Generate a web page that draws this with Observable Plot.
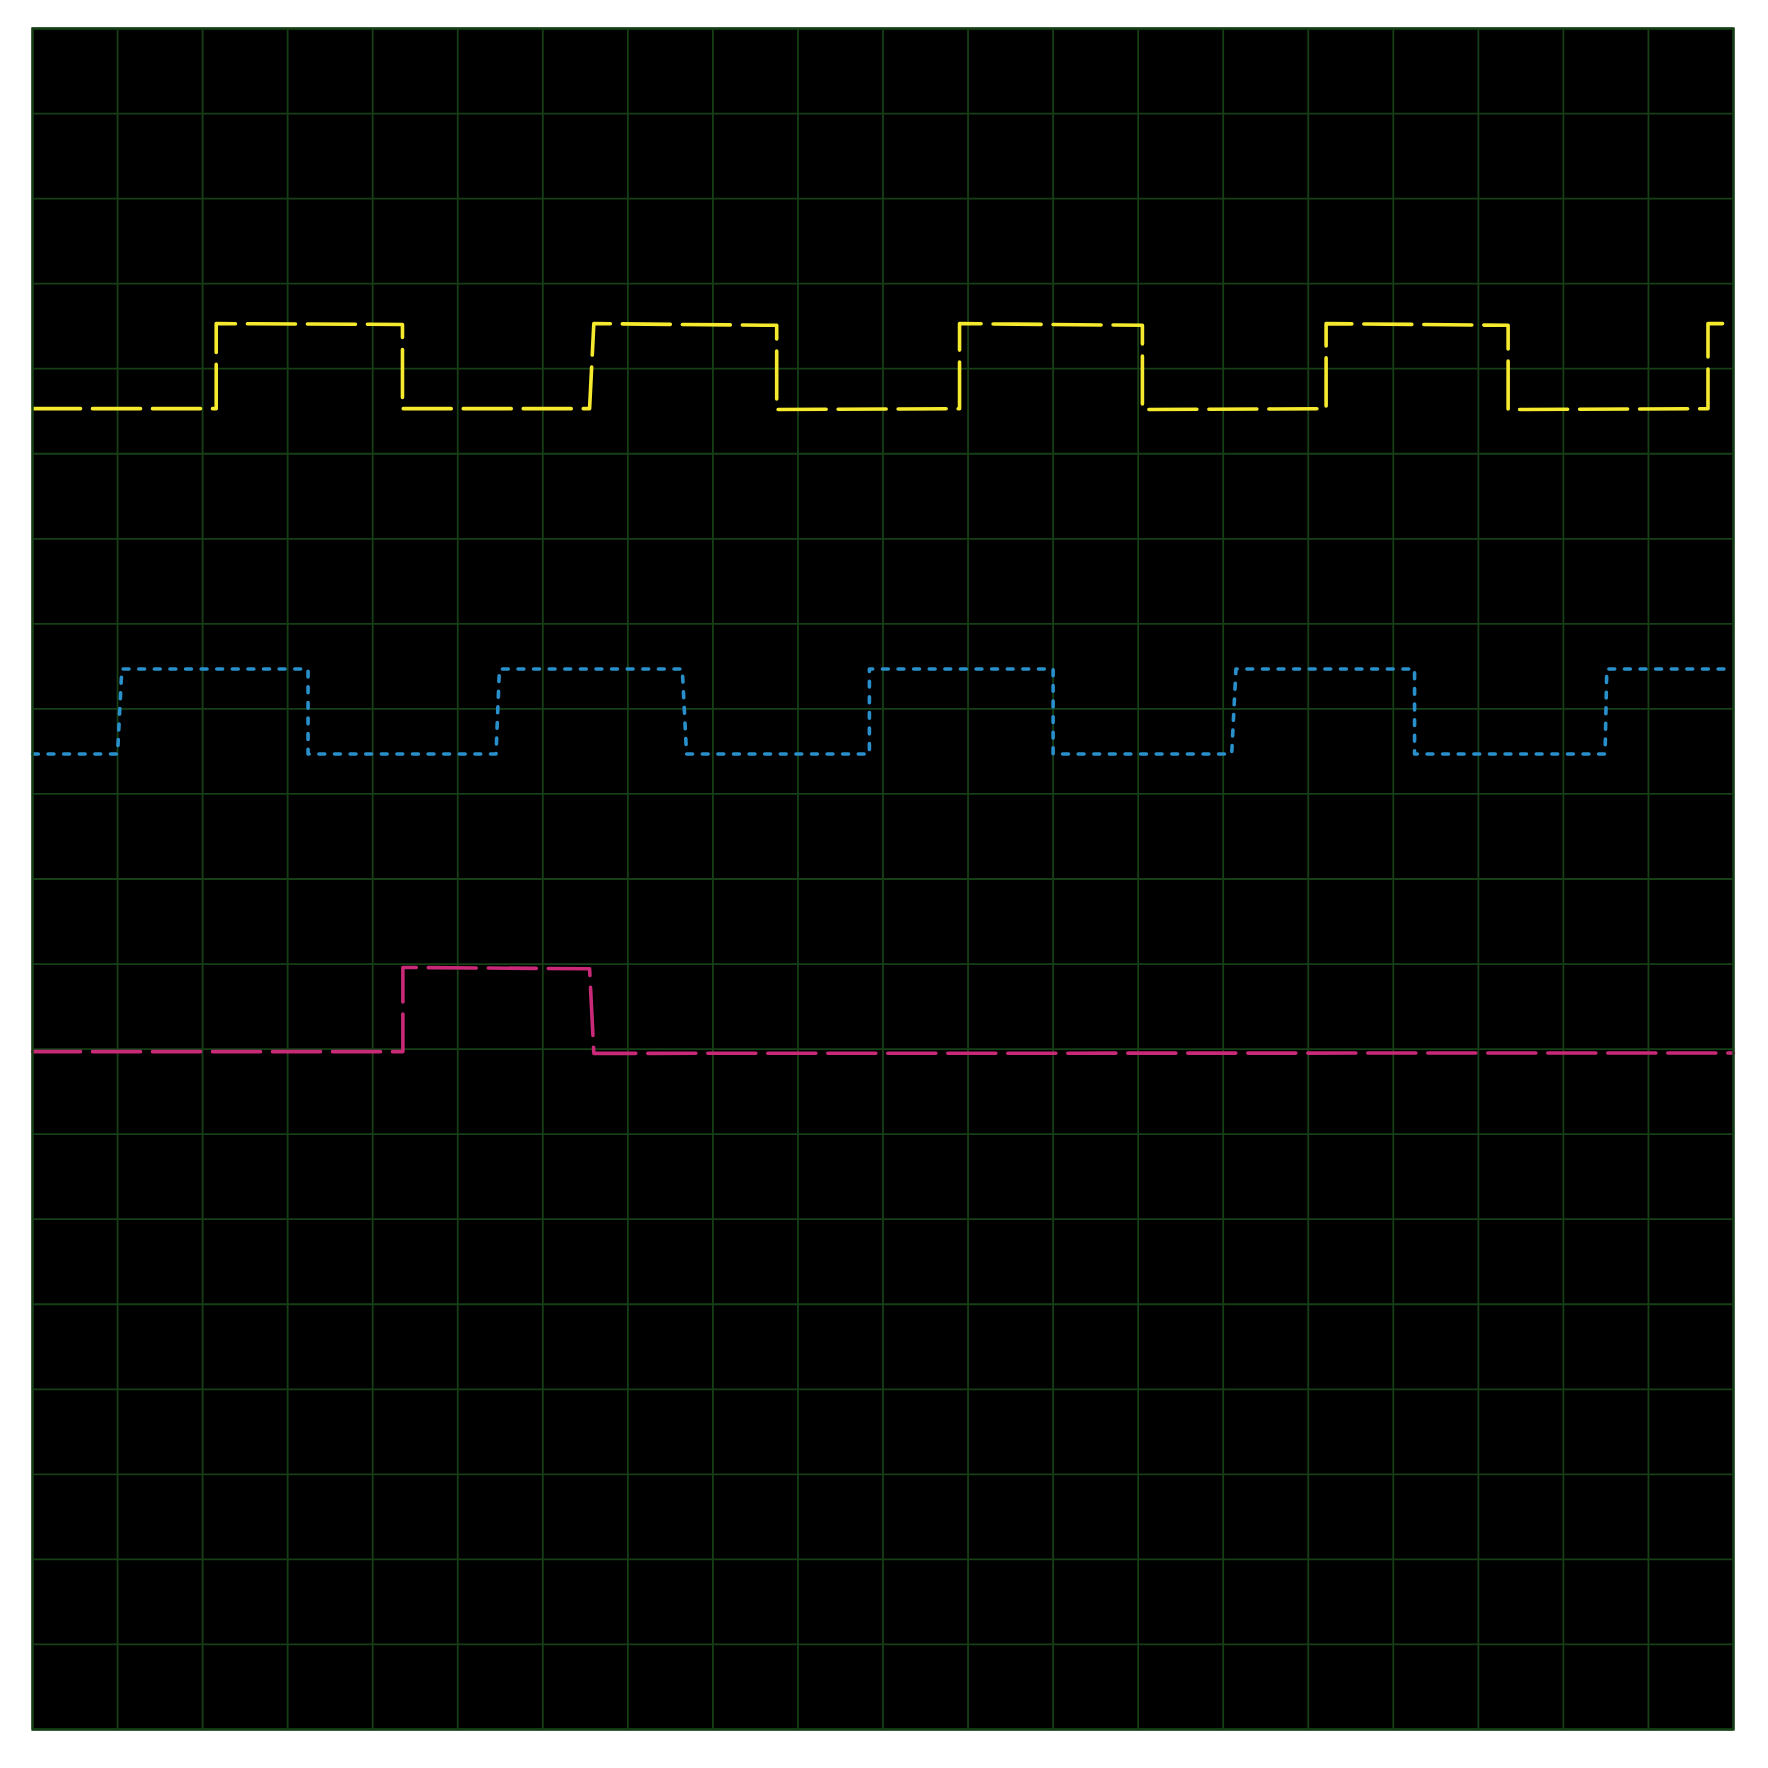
<!DOCTYPE html>
<html>
<head>
<meta charset="utf-8">
<script src="https://cdn.jsdelivr.net/npm/d3@7"></script>
<script src="https://cdn.jsdelivr.net/npm/@observablehq/plot@0.6"></script>
<style>
  html, body { margin: 0; padding: 0; background: #ffffff; }
  #chart svg { display: block; }
  #chart g[aria-label="line"] path {
    stroke-width: 3.6px !important;
    stroke-linecap: round !important;
    stroke-linejoin: round !important;
  }
</style>
</head>
<body>
<div id="chart"></div>
<script>
// Grid divisions (oscilloscope style 20 x 20)
const xTicks = d3.range(0, 21);
const yTicks = d3.range(0, 21);

// Channel 1 (yellow) — square wave
const yellowX = [0, 2.16, 2.16, 4.35, 4.35, 6.55, 6.60, 8.75, 8.75, 10.90, 10.90, 13.05, 13.05, 15.21, 15.21, 17.35, 17.35, 19.70, 19.70, 20];
const yellowY = [15.53, 15.53, 16.53, 16.52, 15.53, 15.53, 16.53, 16.51, 15.52, 15.53, 16.53, 16.51, 15.52, 15.53, 16.53, 16.51, 15.52, 15.53, 16.53, 16.53];

// Channel 2 (blue) — square wave
const blueX = [0, 1.00, 1.05, 3.24, 3.24, 5.45, 5.49, 7.64, 7.69, 9.84, 9.84, 12.00, 12.00, 14.10, 14.15, 16.25, 16.25, 18.49, 18.51, 20];
const blueY = [11.47, 11.47, 12.47, 12.47, 11.47, 11.47, 12.47, 12.47, 11.47, 11.47, 12.47, 12.47, 11.47, 11.47, 12.47, 12.47, 11.47, 11.47, 12.47, 12.47];

// Channel 3 (magenta) — single pulse
const magentaX = [0, 4.355, 4.355, 6.55, 6.60, 20];
const magentaY = [7.97, 7.97, 8.96, 8.945, 7.95, 7.955];

const toPoints = (xs, ys) => xs.map((x, i) => ({x, y: ys[i]}));
const yellow = toPoints(yellowX, yellowY);
const blue = toPoints(blueX, blueY);
const magenta = toPoints(magentaX, magentaY);

const gridColor = "#163f16";

const chart = Plot.plot({
  width: 1768,
  height: 1768,
  marginLeft: 32,
  marginTop: 28,
  marginRight: 35,
  marginBottom: 39,
  style: {background: "#ffffff"},
  x: {domain: [0, 20], axis: null},
  y: {domain: [0, 20], axis: null},
  marks: [
    Plot.frame({fill: "#000000", stroke: null}),
    Plot.gridX(xTicks, {stroke: gridColor, strokeOpacity: 1, strokeWidth: 1.8}),
    Plot.gridY(yTicks, {stroke: gridColor, strokeOpacity: 1, strokeWidth: 1.8}),
    Plot.line(magenta, {x: "x", y: "y", stroke: "#c82a78", strokeWidth: 3.6, strokeDasharray: "48,12", strokeLinecap: "round", strokeLinejoin: "round"}),
    Plot.line(blue, {x: "x", y: "y", stroke: "#2a90cc", strokeWidth: 3.6, strokeDasharray: "5.8,9.8", strokeLinecap: "round", strokeLinejoin: "round"}),
    Plot.line(yellow, {x: "x", y: "y", stroke: "#f5ea2e", strokeWidth: 3.6, strokeDasharray: "48,12", strokeLinecap: "round", strokeLinejoin: "round"}),
    Plot.frame({stroke: gridColor, strokeWidth: 2.4})
  ]
});
document.getElementById("chart").append(chart);
</script>
</body>
</html>
